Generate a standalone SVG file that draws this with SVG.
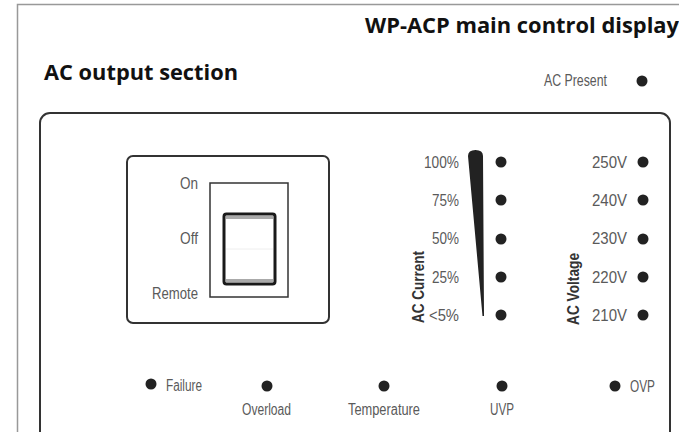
<svg xmlns="http://www.w3.org/2000/svg" width="679" height="432" viewBox="0 0 679 432">
<style>
.t{font-family:"Liberation Sans",Arial,sans-serif;font-size:16px;fill:#5a5a5a}
.h{font-family:"Open Sans","Liberation Sans",sans-serif;font-weight:bold;font-size:21px;fill:#111}
.v{font-family:"Liberation Sans",Arial,sans-serif;font-weight:bold;font-size:17px;fill:#333}
.dot{fill:#222}
.ln{fill:none;stroke:#333;stroke-width:2}
</style>
<rect width="679" height="432" fill="#fff"/>
<g id="frame">
<path d="M17.5,440 V4.5 H690" fill="none" stroke="#999" stroke-width="1.5"/>
</g>
<g id="titles">
<text class="h" x="365" y="33" textLength="314" lengthAdjust="spacingAndGlyphs">WP-ACP main control display</text>
<text class="h" x="44" y="80" textLength="194" lengthAdjust="spacingAndGlyphs">AC output section</text>
</g>
<g id="ac-present">
<text class="t" x="544" y="86" textLength="63" lengthAdjust="spacingAndGlyphs">AC Present</text>
<circle class="dot" cx="642" cy="81" r="5.5"/>
</g>
<g id="panel">
<rect class="ln" x="40" y="113" width="630" height="360" rx="10"/>
</g>
<g id="switch">
<rect class="ln" x="127" y="156" width="202" height="167" rx="6"/>
<rect x="210" y="183" width="78" height="114" fill="none" stroke="#333" stroke-width="1.5"/>
<rect x="224" y="214" width="51" height="70" rx="2.5" fill="#fff" stroke="#1a1a1a" stroke-width="3"/>
<rect x="226" y="216" width="47" height="3" fill="#aaa"/>
<rect x="226" y="279" width="47" height="3" fill="#aaa"/>
<line x1="226" y1="249" x2="273" y2="249" stroke="#eee" stroke-width="1"/>
<text class="t" x="198" y="189" text-anchor="end" textLength="18" lengthAdjust="spacingAndGlyphs">On</text>
<text class="t" x="198" y="244" text-anchor="end" textLength="18" lengthAdjust="spacingAndGlyphs">Off</text>
<text class="t" x="198" y="299" text-anchor="end" textLength="46" lengthAdjust="spacingAndGlyphs">Remote</text>
</g>
<g id="ac-current">
<path d="M468,156 Q468,150 475.5,150 Q483,150 483,156 L484,316 L482.5,316 Z" fill="#222"/>
<text class="v" transform="translate(424,323) rotate(-90)" textLength="72" lengthAdjust="spacingAndGlyphs">AC Current</text>
<text class="t" x="459" y="168" text-anchor="end" textLength="35" lengthAdjust="spacingAndGlyphs">100%</text>
<text class="t" x="459" y="206" text-anchor="end" textLength="27" lengthAdjust="spacingAndGlyphs">75%</text>
<text class="t" x="459" y="244" text-anchor="end" textLength="27" lengthAdjust="spacingAndGlyphs">50%</text>
<text class="t" x="459" y="283" text-anchor="end" textLength="27" lengthAdjust="spacingAndGlyphs">25%</text>
<text class="t" x="459" y="321" text-anchor="end" textLength="30" lengthAdjust="spacingAndGlyphs">&lt;5%</text>
<circle class="dot" cx="501" cy="162" r="5.5"/>
<circle class="dot" cx="501" cy="200" r="5.5"/>
<circle class="dot" cx="501" cy="239" r="5.5"/>
<circle class="dot" cx="501" cy="277" r="5.5"/>
<circle class="dot" cx="501" cy="315" r="5.5"/>
</g>
<g id="ac-voltage">
<text class="v" transform="translate(579,325) rotate(-90)" textLength="72" lengthAdjust="spacingAndGlyphs">AC Voltage</text>
<text class="t" x="627" y="168" text-anchor="end" textLength="35" lengthAdjust="spacingAndGlyphs">250V</text>
<text class="t" x="627" y="206" text-anchor="end" textLength="35" lengthAdjust="spacingAndGlyphs">240V</text>
<text class="t" x="627" y="244" text-anchor="end" textLength="35" lengthAdjust="spacingAndGlyphs">230V</text>
<text class="t" x="627" y="283" text-anchor="end" textLength="35" lengthAdjust="spacingAndGlyphs">220V</text>
<text class="t" x="627" y="321" text-anchor="end" textLength="35" lengthAdjust="spacingAndGlyphs">210V</text>
<circle class="dot" cx="643" cy="162" r="5.5"/>
<circle class="dot" cx="643" cy="200" r="5.5"/>
<circle class="dot" cx="643" cy="239" r="5.5"/>
<circle class="dot" cx="643" cy="277" r="5.5"/>
<circle class="dot" cx="643" cy="315" r="5.5"/>
</g>
<g id="failure">
<circle class="dot" cx="151" cy="384" r="5.5"/>
<text class="t" x="166" y="391" textLength="36" lengthAdjust="spacingAndGlyphs">Failure</text>
</g>
<g id="overload">
<circle class="dot" cx="267" cy="386" r="5.5"/>
<text class="t" x="266.5" y="415" text-anchor="middle" textLength="49" lengthAdjust="spacingAndGlyphs">Overload</text>
</g>
<g id="temperature">
<circle class="dot" cx="384" cy="386" r="5.5"/>
<text class="t" x="384" y="415" text-anchor="middle" textLength="72" lengthAdjust="spacingAndGlyphs">Temperature</text>
</g>
<g id="uvp">
<circle class="dot" cx="502" cy="386" r="5.5"/>
<text class="t" x="502" y="415" text-anchor="middle" textLength="24" lengthAdjust="spacingAndGlyphs">UVP</text>
</g>
<g id="ovp">
<circle class="dot" cx="615" cy="386" r="5.5"/>
<text class="t" x="630" y="392" textLength="25" lengthAdjust="spacingAndGlyphs">OVP</text>
</g>
<g id="connectors"></g>
</svg>
